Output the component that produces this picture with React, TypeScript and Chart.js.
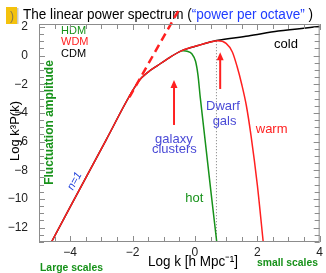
import React, { useEffect, useRef } from 'react';
import { Chart, registerables } from 'chart.js';

Chart.register(...registerables);

// ---------- data ----------
const xTickValues = [-4, -2, 0, 2, 4];
const yTickValues = [-12, -10, -8, -6, -4, -2, 0, 2];

// CDM (cold) – log k vs log k^3 P(k)
const cdmLogK = [-4.6, -2.85, -1.79, -1.5, -1.2, -0.8, -0.42, 0.1, 0.69, 1.71, 2.67, 4.0];
const cdmLogP = [-13.0, -5.89, -1.75, -1.15, -0.7, -0.12, 0.34, 0.7, 1.05, 1.36, 1.71, 2.03];

// WDM (warm)
const wdmLogK = [-4.6, -2.85, -1.79, -1.5, -1.2, -0.8, -0.42, 0.1, 0.5, 0.72, 1.0, 1.2, 1.35, 1.5, 1.65, 1.8, 2.0, 2.19];
const wdmLogP = [-13.0, -5.89, -1.75, -1.15, -0.7, -0.12, 0.34, 0.7, 0.95, 1.03, 0.85, 0.25, -0.75, -2.0, -3.5, -5.6, -9.0, -13.0];

// HDM (hot) – branch from the shared curve
const hdmLogK = [-0.42, -0.25, -0.1, 0.02, 0.1, 0.17, 0.7];
const hdmLogP = [0.34, 0.3, 0.12, -0.4, -1.4, -2.9, -13.0];

// n=1 power-law continuation (dashed)
const powerLawLogK = [-2.1, -0.48];
const powerLawLogP = [-2.9, 3.32];

// dwarf-galaxy scale marker (dotted)
const dwarfCutLogK = [0.69, 0.69];
const dwarfCutLogP = [1.0, -13.0];

// arrows
const arrowLogK = [-0.67, 0.81];
const arrowTipLogP = [-1.7, 0.23];
const arrowTailLogP = [-4.84, -2.33];

// ---------- styling ----------
const FONT = '"Liberation Sans", Arial, Helvetica, sans-serif';
const RED = '#ff2020';
const GREEN = '#17921a';
const BLACK = '#000000';
const LABEL_BLUE = '#4a4ad6';
const TITLE_BLUE = '#1f3cff';
const AXIS_GREY = '#8c8c8c';

const annotations = [
  { text: 'cold', k: 2.92, p: 0.55, color: BLACK },
  { text: 'galaxy', k: -0.674, p: -6.08, color: LABEL_BLUE },
  { text: 'clusters', k: -0.66, p: -6.82, color: LABEL_BLUE },
  { text: 'Dwarf', k: 0.9, p: -3.8, color: LABEL_BLUE },
  { text: 'gals', k: 0.95, p: -4.84, color: LABEL_BLUE },
  { text: 'warm', k: 2.46, p: -5.42, color: RED },
  { text: 'hot', k: -0.02, p: -10.19, color: GREEN },
];

const fmt = (v: number) => (v < 0 ? '\u2212' + Math.abs(v) : String(v));
const pts = (ks: number[], ps: number[]) => ks.map((k, i) => ({ x: k, y: ps[i] }));

function text(ctx: CanvasRenderingContext2D, s: string, x: number, y: number, color: string, font: string,
  align: CanvasTextAlign = 'center', baseline: CanvasTextBaseline = 'alphabetic', maxW?: number, rot = 0) {
  ctx.save();
  ctx.font = font;
  ctx.fillStyle = color;
  ctx.textAlign = align;
  ctx.textBaseline = baseline;
  ctx.translate(x, y);
  if (rot) ctx.rotate(rot);
  if (maxW) ctx.fillText(s, 0, 0, maxW);
  else ctx.fillText(s, 0, 0);
  ctx.restore();
}

const decor = {
  id: 'decor',
  beforeDatasetsDraw(chart: any) {
    const ctx: CanvasRenderingContext2D = chart.ctx;
    // yellow slide tab
    ctx.save();
    ctx.fillStyle = '#f4c20d';
    ctx.fillRect(6, 7, 11, 17);
    ctx.fillStyle = '#c9c9c9';
    ctx.fillRect(17, 8, 1.5, 16);
    ctx.restore();
    text(ctx, ')', 12, 20, '#8a7a4a', `12px ${FONT}`, 'center');

    // title
    ctx.save();
    ctx.font = `14px ${FONT}`;
    ctx.textAlign = 'left';
    ctx.textBaseline = 'alphabetic';
    const parts: [string, string][] = [
      ['The linear power spectrum (', BLACK],
      ['\u201Cpower per octave\u201D', TITLE_BLUE],
      [' )', BLACK],
    ];
    const total = parts.reduce((w, p) => w + ctx.measureText(p[0]).width, 0);
    const sx = Math.min(1, 290 / total);
    ctx.translate(23, 18.5);
    ctx.scale(sx, 1);
    let x = 0;
    for (const [t, c] of parts) {
      ctx.fillStyle = c;
      ctx.fillText(t, x, 0);
      x += ctx.measureText(t).width;
    }
    ctx.restore();
  },
  afterDatasetsDraw(chart: any) {
    const ctx: CanvasRenderingContext2D = chart.ctx;
    const xs = chart.scales.x;
    const ys = chart.scales.y;
    const { left, right, top, bottom } = chart.chartArea;

    // arrows
    ctx.save();
    ctx.strokeStyle = RED;
    ctx.fillStyle = RED;
    ctx.lineWidth = 2;
    arrowLogK.forEach((k, i) => {
      const x = xs.getPixelForValue(k);
      const yTip = ys.getPixelForValue(arrowTipLogP[i]);
      const yTail = ys.getPixelForValue(arrowTailLogP[i]);
      ctx.beginPath();
      ctx.moveTo(x, yTail);
      ctx.lineTo(x, yTip + 6);
      ctx.stroke();
      ctx.beginPath();
      ctx.moveTo(x, yTip);
      ctx.lineTo(x - 3.5, yTip + 8);
      ctx.lineTo(x + 3.5, yTip + 8);
      ctx.closePath();
      ctx.fill();
    });
    ctx.restore();

    // curve labels
    for (const a of annotations) {
      text(ctx, a.text, xs.getPixelForValue(a.k), ys.getPixelForValue(a.p), a.color, `13px ${FONT}`);
    }
    text(ctx, 'n=1', xs.getPixelForValue(-3.855), ys.getPixelForValue(-8.75), '#1a3ddb',
      `italic 11px ${FONT}`, 'center', 'middle', undefined, -62 * Math.PI / 180);

    // legend
    text(ctx, 'HDM', left + 22, 33.7, GREEN, `11px ${FONT}`, 'left');
    text(ctx, 'WDM', left + 22, 45.3, RED, `11px ${FONT}`, 'left');
    text(ctx, 'CDM', left + 22, 57, BLACK, `11px ${FONT}`, 'left');

    // axis titles
    text(ctx, 'Log k\u00B3P(k)', 15, (top + bottom) / 2 - 2, BLACK, `13px ${FONT}`, 'center', 'middle', undefined, -Math.PI / 2);
    text(ctx, 'Fluctuation amplitude', 50, 122.5, GREEN, `bold 12px ${FONT}`, 'center', 'middle', 125, -Math.PI / 2);
    text(ctx, 'Log k [h Mpc\u207B\u00B9]', 193, 266, BLACK, `15px ${FONT}`, 'center', 'alphabetic', 90);
    text(ctx, 'Large scales', 40, 271, GREEN, `bold 11px ${FONT}`, 'left', 'alphabetic', 63);
    text(ctx, 'small scales', 257, 266, GREEN, `bold 11px ${FONT}`, 'left', 'alphabetic', 61);

    // frame and inward ticks
    ctx.save();
    ctx.strokeStyle = AXIS_GREY;
    ctx.lineWidth = 1;
    ctx.strokeRect(left + 0.5, top + 0.5, right - left - 1, bottom - top - 1);
    ctx.beginPath();
    for (let v = -5; v <= 4.001; v += 0.5) {
      const px = Math.round(xs.getPixelForValue(v)) + 0.5;
      const L = Math.abs(v % 2) < 1e-6 ? 6 : 5;
      ctx.moveTo(px, bottom); ctx.lineTo(px, bottom - L);
      ctx.moveTo(px, top); ctx.lineTo(px, top + L);
    }
    for (let v = -13; v <= 2.001; v += 0.5) {
      const py = Math.round(ys.getPixelForValue(v)) + 0.5;
      const L = Math.abs(v % 2) < 1e-6 ? 6 : 5;
      ctx.moveTo(left, py); ctx.lineTo(left + L, py);
      ctx.moveTo(right, py); ctx.lineTo(right - L, py);
    }
    ctx.stroke();
    ctx.restore();
  },
};

export default function App() {
  const ref = useRef<HTMLCanvasElement | null>(null);

  useEffect(() => {
    if (!ref.current) return;
    const chart = new Chart(ref.current, {
      type: 'line',
      data: {
        datasets: [
          { label: 'WDM', data: pts(wdmLogK, wdmLogP), borderColor: RED, borderWidth: 1.5, cubicInterpolationMode: 'monotone' },
          { label: 'n=1', data: pts(powerLawLogK, powerLawLogP), borderColor: RED, borderWidth: 2.5, borderDash: [8, 5], clip: false as any },
          { label: 'HDM', data: pts(hdmLogK, hdmLogP), borderColor: GREEN, borderWidth: 1.5, cubicInterpolationMode: 'monotone' },
          { label: 'CDM', data: pts(cdmLogK, cdmLogP), borderColor: BLACK, borderWidth: 1.5, cubicInterpolationMode: 'monotone' },
          { label: 'dwarf', data: pts(dwarfCutLogK, dwarfCutLogP), borderColor: '#777777', borderWidth: 1, borderDash: [1, 2] },
        ] as any,
      },
      options: {
        animation: false,
        responsive: false,
        devicePixelRatio: 1,
        layout: { padding: { top: 24, right: 4, left: 0, bottom: 0 } },
        elements: { point: { radius: 0, hoverRadius: 0 } },
        plugins: { legend: { display: false }, tooltip: { enabled: false }, title: { display: false } },
        scales: {
          x: {
            type: 'linear',
            min: -5,
            max: 4,
            grid: { display: false, drawTicks: false },
            border: { display: false },
            afterBuildTicks: (s: any) => { s.ticks = xTickValues.map((v) => ({ value: v })); },
            afterFit: (s: any) => { s.height = 31; },
            ticks: { padding: 3, color: '#222', font: { family: FONT, size: 12 }, callback: (v: any) => fmt(Number(v)), autoSkip: false, maxRotation: 0 },
          },
          y: {
            type: 'linear',
            min: -13,
            max: 2.2,
            grid: { display: false, drawTicks: false },
            border: { display: false },
            afterBuildTicks: (s: any) => { s.ticks = yTickValues.map((v) => ({ value: v })); },
            afterFit: (s: any) => { s.width = 39; },
            ticks: { padding: 11, color: '#222', font: { family: FONT, size: 12 }, callback: (v: any) => fmt(Number(v)), autoSkip: false },
          },
        },
      } as any,
      plugins: [decor],
    });
    return () => chart.destroy();
  }, []);

  return (
    <div style={{ position: 'fixed', left: 0, top: 0, width: 326, height: 273, background: '#fff' }}>
      <canvas ref={ref} width={326} height={273} style={{ display: 'block', width: 326, height: 273 }} />
    </div>
  );
}
